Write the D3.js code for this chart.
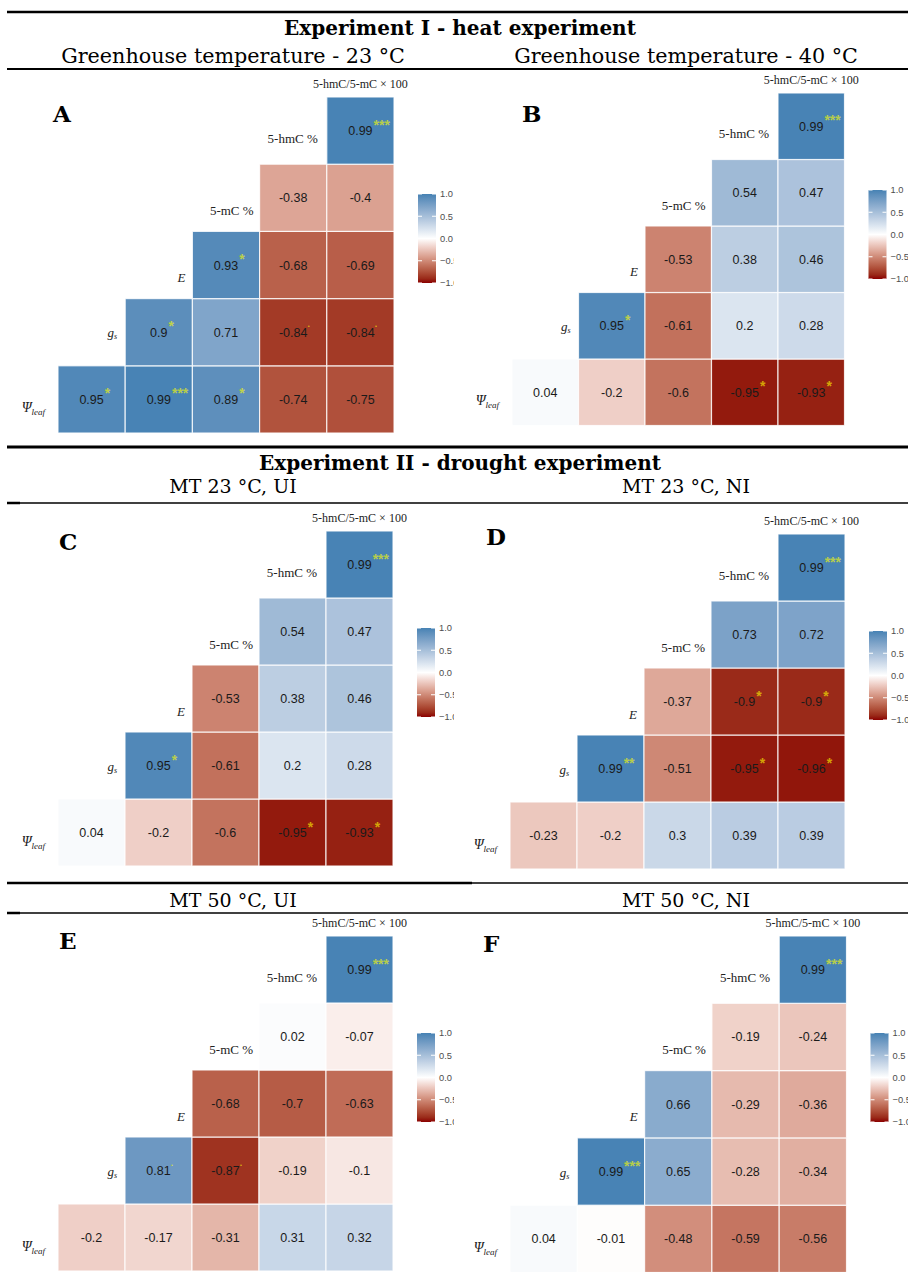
<!DOCTYPE html>
<html>
<head>
<meta charset="utf-8">
<script src="https://cdn.jsdelivr.net/npm/d3@7"></script>
<style>
body { margin: 0; background: #fff; }
</style>
</head>
<body>
<script>
// variables: rows go bottom -> top, columns left -> right
var rowVars = ["psi", "gs", "E", "mC", "hmC"];
var colVars = ["gs", "E", "mC", "hmC", "ratio"];
var topLabel = "5-hmC/5-mC \u00d7 100";
var legendTicks = [1.0, 0.5, 0.0, -0.5, -1.0];

// correlations per row (bottom row first); row i starts in column i
var corrA = [[0.95, 0.99, 0.89, -0.74, -0.75], [0.9, 0.71, -0.84, -0.84], [0.93, -0.68, -0.69], [-0.38, -0.4], [0.99]];
var sigA  = [["*", "***", "*", "", ""], ["*", "", ".", "."], ["*", "", ""], ["", ""], ["***"]];

var corrB = [[0.04, -0.2, -0.6, -0.95, -0.93], [0.95, -0.61, 0.2, 0.28], [-0.53, 0.38, 0.46], [0.54, 0.47], [0.99]];
var sigB  = [["", "", "", "*", "*"], ["*", "", "", ""], ["", "", ""], ["", ""], ["***"]];

var corrC = [[0.04, -0.2, -0.6, -0.95, -0.93], [0.95, -0.61, 0.2, 0.28], [-0.53, 0.38, 0.46], [0.54, 0.47], [0.99]];
var sigC  = [["", "", "", "*", "*"], ["*", "", "", ""], ["", "", ""], ["", ""], ["***"]];

var corrD = [[-0.23, -0.2, 0.3, 0.39, 0.39], [0.99, -0.51, -0.95, -0.96], [-0.37, -0.9, -0.9], [0.73, 0.72], [0.99]];
var sigD  = [["", "", "", "", ""], ["**", "", "*", "*"], ["", "*", "*"], ["", ""], ["***"]];

var corrE = [[-0.2, -0.17, -0.31, 0.31, 0.32], [0.81, -0.87, -0.19, -0.1], [-0.68, -0.7, -0.63], [0.02, -0.07], [0.99]];
var sigE  = [["", "", "", "", ""], [".", ".", "", ""], ["", "", ""], ["", ""], ["***"]];

var corrF = [[0.04, -0.01, -0.48, -0.59, -0.56], [0.99, 0.65, -0.28, -0.34], [0.66, -0.29, -0.36], [-0.19, -0.24], [0.99]];
var sigF  = [["", "", "", "", ""], ["***", "", "", ""], ["", "", ""], ["", ""], ["***"]];

// headings
var titles = ["Experiment I - heat experiment", "Experiment II - drought experiment"];
var subtitles = ["Greenhouse temperature - 23 \u00b0C", "Greenhouse temperature - 40 \u00b0C",
                 "MT 23 \u00b0C, UI", "MT 23 \u00b0C, NI", "MT 50 \u00b0C, UI", "MT 50 \u00b0C, NI"];

var panels = [
  { id: "A", corr: corrA, sig: sigA, x0: 58,  y0: 97,  cs: 67.2, lx: 53,  ly: 122, clip: true },
  { id: "B", corr: corrB, sig: sigB, x0: 512, y0: 93,  cs: 66.5, lx: 522, ly: 122 },
  { id: "C", corr: corrC, sig: sigC, x0: 58,  y0: 531, cs: 67,   lx: 59,  ly: 550, clip: true },
  { id: "D", corr: corrD, sig: sigD, x0: 510, y0: 534, cs: 67,   lx: 486, ly: 545 },
  { id: "E", corr: corrE, sig: sigE, x0: 58,  y0: 936, cs: 67,   lx: 59,  ly: 949, clip: true },
  { id: "F", corr: corrF, sig: sigF, x0: 510, y0: 936, cs: 67.3, lx: 483, ly: 952 }
];

var W = 908, H = 1272;
var svg = d3.select("body").append("svg")
  .attr("width", W)
  .attr("height", H);

var defs = svg.append("defs");
defs.append("clipPath").attr("id", "leftclip")
  .append("rect").attr("x", 0).attr("y", 0).attr("width", 454).attr("height", H);

var color = d3.scaleLinear()
  .domain([-1, 0, 1])
  .range(["#8b0000", "#ffffff", "#4682b4"])
  .interpolate(d3.interpolateLab);

// gradient for colour bars
var grad = defs.append("linearGradient").attr("id", "cbar")
  .attr("x1", 0).attr("y1", 0).attr("x2", 0).attr("y2", 1);
d3.range(0, 21).forEach(function (i) {
  var v = 1 - i / 10;
  grad.append("stop").attr("offset", (i / 20)).attr("stop-color", color(v));
});

// ---- headings and rules
var serif = "DejaVu Serif";
function rule(y, x1, x2, w) {
  svg.append("line").attr("x1", x1).attr("x2", x2).attr("y1", y).attr("y2", y)
    .attr("stroke", "#000").attr("stroke-width", w);
}
rule(12, 7, W, 2.5);
rule(69, 7, W, 2);
rule(447, 7, W, 3);
rule(503, 7, W, 1.3);
rule(503, 7, 20, 2.5);
rule(883, 7, 472, 2.5);
rule(883, 472, W, 1.3);
rule(913, 7, W, 1.3);
rule(913, 7, 20, 2.5);

svg.selectAll(".title").data(titles).enter().append("text")
  .attr("class", "title")
  .attr("x", 460)
  .attr("y", function (d, i) { return i == 0 ? 35 : 470; })
  .attr("text-anchor", "middle")
  .style("font-family", serif).style("font-weight", "bold").style("font-size", "20px")
  .text(function (d) { return d; });

var subY = [63, 63, 493, 493, 907, 907];
svg.selectAll(".subtitle").data(subtitles).enter().append("text")
  .attr("class", "subtitle")
  .attr("x", function (d, i) { return i % 2 == 0 ? 233 : 686; })
  .attr("y", function (d, i) { return subY[i]; })
  .attr("text-anchor", "middle")
  .style("font-family", serif)
  .style("font-size", function (d, i) { return i < 2 ? "20.7px" : "19px"; })
  .text(function (d) { return d; });

// ---- panels
var labelSerif = "Liberation Serif";
var sans = "Liberation Sans";
var labelBase = [13, 5, 17, 17, 12]; // baseline offset from row centre
var labelGap = [13, 8, 7, 6, 9];

panels.forEach(function (p) {
  var g = svg.append("g");
  if (p.clip) g.attr("clip-path", "url(#leftclip)");

  var x = d3.scaleBand().domain(colVars).range([p.x0, p.x0 + 5 * p.cs]);
  var y = d3.scaleBand().domain(rowVars.slice().reverse()).range([p.y0, p.y0 + 5 * p.cs]);

  var cells = [];
  p.corr.forEach(function (row, i) {
    row.forEach(function (v, j) {
      cells.push({ row: rowVars[i], col: colVars[i + j], v: v, s: p.sig[i][j] });
    });
  });

  g.selectAll("rect.cell").data(cells).enter().append("rect")
    .attr("class", "cell")
    .attr("x", function (d) { return x(d.col); })
    .attr("y", function (d) { return y(d.row); })
    .attr("width", x.bandwidth())
    .attr("height", y.bandwidth())
    .attr("fill", function (d) { return color(d.v); })
    .attr("stroke", "#fff")
    .attr("stroke-opacity", 0.8)
    .attr("stroke-width", 1.2);

  var nums = g.selectAll("text.num").data(cells).enter().append("text")
    .attr("class", "num")
    .attr("x", function (d) { return x(d.col) + x.bandwidth() / 2; })
    .attr("y", function (d) { return y(d.row) + y.bandwidth() / 2; })
    .attr("dy", "0.36em")
    .attr("text-anchor", "middle")
    .style("font-family", sans).style("font-size", "12.5px")
    .attr("fill", "#1a1a1a")
    .text(function (d) { return d.v; });

  nums.each(function (d) {
    if (!d.s) return;
    var w = this.getComputedTextLength();
    var cx = x(d.col) + x.bandwidth() / 2;
    var cy = y(d.row) + y.bandwidth() / 2;
    var dot = d.s == ".";
    g.append("text")
      .attr("x", cx + w / 2 + (dot ? 0 : 1))
      .attr("y", dot ? cy - 5 : cy - 1)
      .style("font-family", sans)
      .style("font-size", dot ? "9px" : "14px")
      .style("font-weight", "bold")
      .attr("fill", "#ffff00")
      .attr("fill-opacity", 0.62)
      .text(d.s);
  });

  // diagonal labels
  rowVars.forEach(function (r, i) {
    var t = g.append("text")
      .attr("x", x(colVars[i]) - labelGap[i])
      .attr("y", y(r) + y.bandwidth() / 2 + labelBase[i])
      .attr("text-anchor", "end")
      .style("font-family", labelSerif).style("font-size", "13px")
      .attr("fill", "#222");
    if (r == "psi") {
      t.append("tspan").style("font-style", "italic").style("font-size", "14px").text("\u03a8");
      t.append("tspan").style("font-style", "italic").style("font-size", "9px").attr("dy", 3).text("leaf");
    } else if (r == "gs") {
      t.append("tspan").style("font-style", "italic").text("g");
      t.append("tspan").style("font-style", "italic").style("font-size", "8px").attr("dy", 2).text("s");
    } else if (r == "E") {
      t.append("tspan").style("font-style", "italic").text("E");
    } else if (r == "mC") {
      t.text("5-mC %");
    } else {
      t.text("5-hmC %");
    }
  });

  g.append("text")
    .attr("x", x("ratio") + x.bandwidth() / 2)
    .attr("y", p.y0 - 9)
    .attr("text-anchor", "middle")
    .style("font-family", labelSerif).style("font-size", "12px")
    .attr("fill", "#222")
    .text(topLabel);

  g.append("text")
    .attr("x", p.lx).attr("y", p.ly)
    .style("font-family", serif).style("font-weight", "bold").style("font-size", "23px")
    .text(p.id);

  // colour bar
  var bx = p.x0 + 5 * p.cs + 24;
  var by = p.y0 + 97;
  var bh = 89, bw = 18;
  var ly = d3.scaleLinear().domain([1, -1]).range([by, by + bh]);
  g.append("rect").attr("x", bx).attr("y", by).attr("width", bw).attr("height", bh)
    .attr("fill", "url(#cbar)");
  g.selectAll("line.tk").data(legendTicks).enter().append("line")
    .attr("x1", bx).attr("x2", bx + 4)
    .attr("y1", function (d) { return ly(d); }).attr("y2", function (d) { return ly(d); })
    .attr("stroke", "#fff").attr("stroke-width", 1);
  g.selectAll("line.tk2").data(legendTicks).enter().append("line")
    .attr("x1", bx + bw - 4).attr("x2", bx + bw)
    .attr("y1", function (d) { return ly(d); }).attr("y2", function (d) { return ly(d); })
    .attr("stroke", "#fff").attr("stroke-width", 1);
  g.selectAll("text.tl").data(legendTicks).enter().append("text")
    .attr("x", bx + bw + 4)
    .attr("y", function (d) { return ly(d); })
    .attr("dy", "0.35em")
    .style("font-family", sans).style("font-size", "9.3px")
    .attr("fill", "#4d4d4d")
    .text(function (d) { return d3.format(".1f")(d); });
});
</script>
</body>
</html>
